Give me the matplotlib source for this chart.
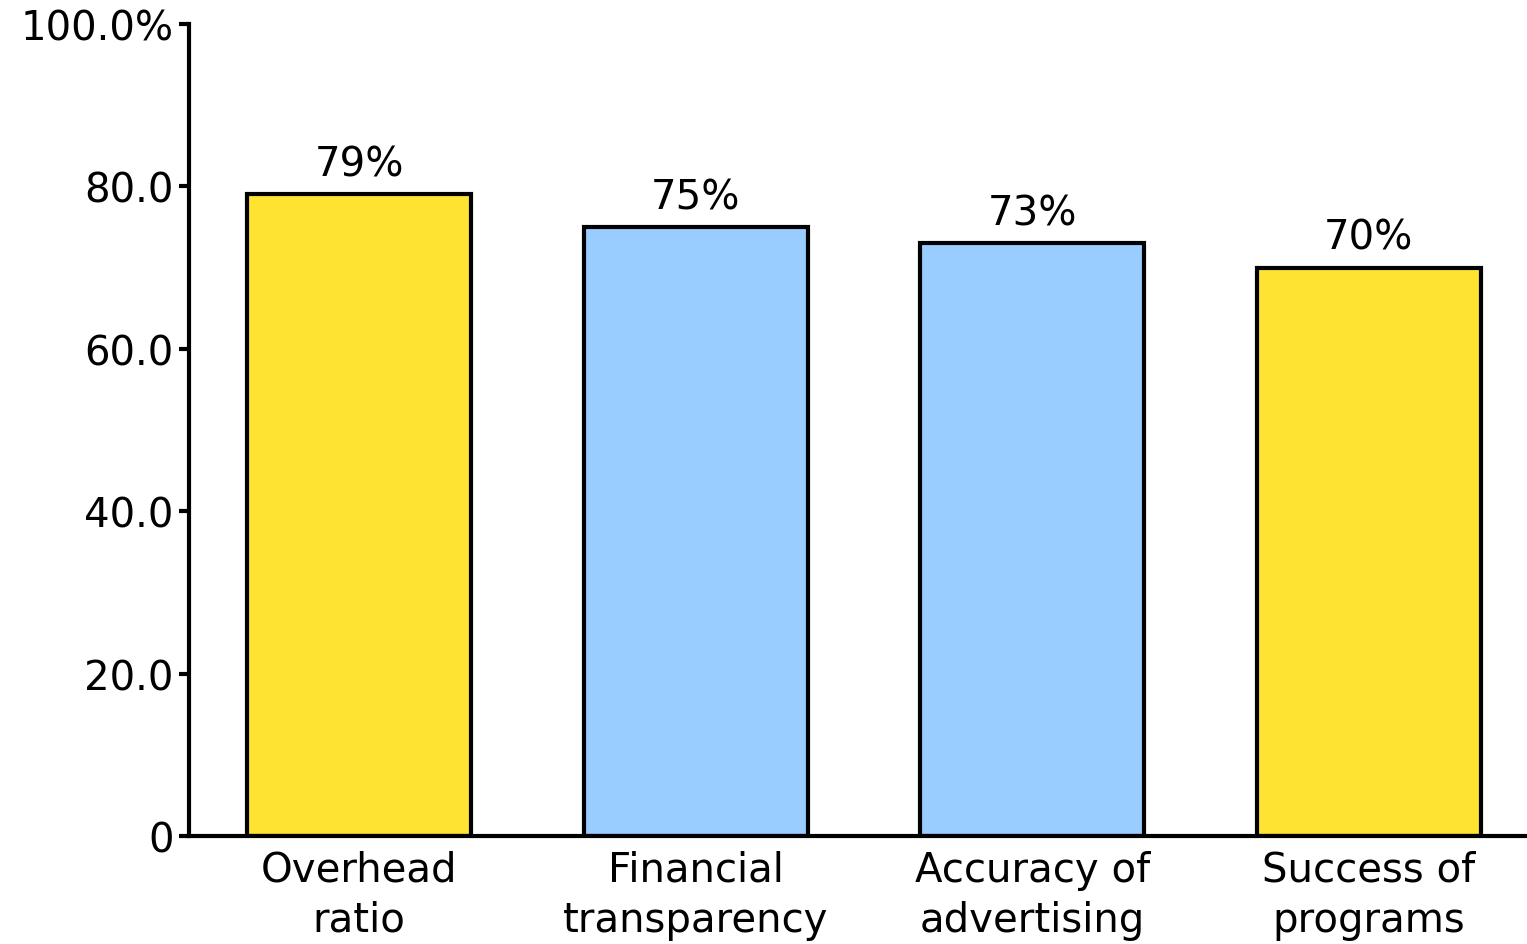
import matplotlib
matplotlib.use("Agg")
import matplotlib.pyplot as plt

categories = ["Overhead\nratio", "Financial\ntransparency", "Accuracy of\nadvertising", "Success of\nprograms"]
values = [79, 75, 73, 70]
colors = ["#FFE333", "#99CCFF", "#99CCFF", "#FFE333"]
yticks = [0, 20, 40, 60, 80, 100]
ytick_labels = ["0", "20.0", "40.0", "60.0", "80.0", "100.0%"]

plt.rcParams["font.family"] = ["DejaVu Sans"]
fs = 29

fig = plt.figure(figsize=(15.27, 9.45), dpi=100)
ax = fig.add_axes([0.1238, 0.1143, 0.8762, 0.8593])

x = range(len(values))
ax.bar(x, values, width=0.665, color=colors, edgecolor="black", linewidth=3, zorder=2)
for i, v in zip(x, values):
    ax.annotate(f"{v}%", (i, v), xytext=(0, 7), textcoords="offset points",
                ha="center", va="bottom", fontsize=fs)

ax.set_ylim(0, 100)
ax.set_xlim(-0.505, 3.47)
ax.set_yticks(yticks)
ax.set_yticklabels(ytick_labels, fontsize=fs)
ax.set_xticks(list(x))
ax.set_xticklabels(categories, fontsize=fs, linespacing=1.32)
ax.tick_params(axis="x", length=0, pad=10)
ax.tick_params(axis="y", length=7, width=3, pad=4)

for s in ["top", "right"]:
    ax.spines[s].set_visible(False)
for s in ["left", "bottom"]:
    ax.spines[s].set_linewidth(3)

fig.savefig("out.png", dpi=100)
